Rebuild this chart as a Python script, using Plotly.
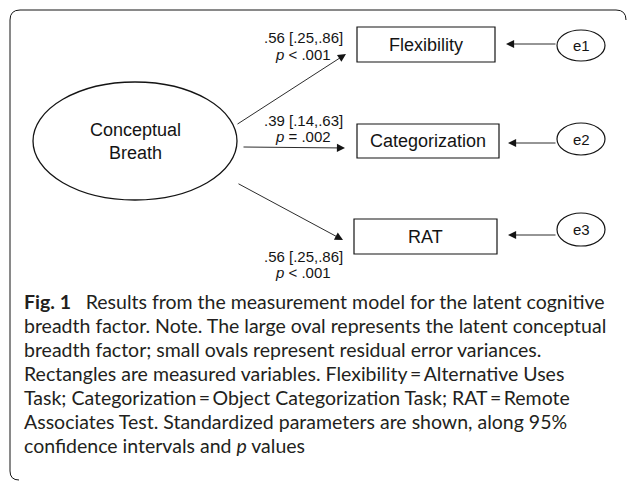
import plotly.graph_objects as go

# ── Model values ────────────────────────────────────────────────────────────
factor_name = ['Conceptual', 'Breath']
indicators = ['Flexibility', 'Categorization', 'RAT']
errors = ['e1', 'e2', 'e3']
loadings = ['.56', '.39', '.56']
ci_low = ['.25', '.14', '.25']
ci_high = ['.86', '.63', '.86']
p_text = ['< .001', '= .002', '< .001']

caption_lines = [
    '<b>Fig. 1</b>\u2002 Results from the measurement model for the latent cognitive',
    'breadth factor. Note. The large oval represents the latent conceptual',
    'breadth factor; small ovals represent residual error variances.',
    'Rectangles are measured variables. Flexibility\u2009=\u2009Alternative Uses',
    'Task; Categorization\u2009=\u2009Object Categorization Task; RAT\u2009=\u2009Remote',
    'Associates Test. Standardized parameters are shown, along 95%',
    'confidence intervals and <i>p</i> values',
]

# ── Layout geometry (pixel space) ───────────────────────────────────────────
W, H = 627, 481
factor_box = (33, 82, 237, 200)
ind_boxes = [(357, 27, 495, 62), (357, 124, 499, 158), (354, 219, 497, 254)]
err_boxes = [(557, 30, 605, 61), (557, 123, 605, 155), (557, 213, 605, 246)]
path_tails = [(236, 125), (242, 147), (237, 183)]
path_tips = [(346, 54), (345, 148), (343, 240)]
err_y = [44, 143, 235]
err_tip_x = [506, 508, 508]
label_pos = [(303, 37, 54), (303, 120, 136), (303, 256, 272)]
cap_x, cap_y0, cap_dy = 22, 301, 24

ink = '#141414'
diag_font = 'Liberation Sans, Arial, sans-serif'
cap_font = 'Lato, Open Sans, sans-serif'

fig = go.Figure()
fig.add_trace(go.Scatter(x=[0, W], y=[0, H], mode='markers',
                         marker=dict(opacity=0), hoverinfo='skip'))

shapes = []
# outer rounded frame
shapes.append(dict(type='path', line=dict(color=ink, width=1),
                   path=('M 626,20 Q 626,10 616,10 L 20,10 Q 10,10 10,20 '
                         'L 10,471 Q 10,480 19,480')))
x0, y0, x1, y1 = factor_box
shapes.append(dict(type='circle', x0=x0, y0=y0, x1=x1, y1=y1,
                   line=dict(color=ink, width=1.3)))
for (x0, y0, x1, y1) in ind_boxes:
    shapes.append(dict(type='rect', x0=x0, y0=y0, x1=x1, y1=y1,
                       line=dict(color=ink, width=1.2)))
for (x0, y0, x1, y1) in err_boxes:
    shapes.append(dict(type='circle', x0=x0, y0=y0, x1=x1, y1=y1,
                       line=dict(color=ink, width=1.2)))

ann = []
cx = (factor_box[0] + factor_box[2]) / 2
cy = (factor_box[1] + factor_box[3]) / 2
ann.append(dict(x=cx, y=cy, text='<br>'.join(factor_name), showarrow=False,
                font=dict(family=diag_font, size=18, color=ink)))

for i, name in enumerate(indicators):
    x0, y0, x1, y1 = ind_boxes[i]
    ann.append(dict(x=(x0 + x1) / 2, y=(y0 + y1) / 2, text=name, showarrow=False,
                    font=dict(family=diag_font, size=18, color=ink)))
    ex0, ey0, ex1, ey1 = err_boxes[i]
    ann.append(dict(x=(ex0 + ex1) / 2, y=(ey0 + ey1) / 2, text=errors[i],
                    showarrow=False, font=dict(family=diag_font, size=15, color=ink)))
    # loading path
    (tx, ty), (hx, hy) = path_tails[i], path_tips[i]
    ann.append(dict(x=hx, y=hy, ax=tx, ay=ty, axref='x', ayref='y', text='',
                    showarrow=True, arrowhead=2, arrowsize=1.8, arrowwidth=0.9,
                    arrowcolor=ink))
    # error path
    ann.append(dict(x=err_tip_x[i], y=err_y[i], ax=ex0, ay=err_y[i], axref='x',
                    ayref='y', text='', showarrow=True, arrowhead=2,
                    arrowsize=1.8, arrowwidth=0.9, arrowcolor=ink))
    lx, ly1, ly2 = label_pos[i]
    ann.append(dict(x=lx, y=ly1, text=f'{loadings[i]} [{ci_low[i]},{ci_high[i]}]',
                    showarrow=False, font=dict(family=diag_font, size=15, color=ink)))
    ann.append(dict(x=lx, y=ly2, text=f'<i>p</i> {p_text[i]}', showarrow=False,
                    font=dict(family=diag_font, size=15, color=ink)))

for k, line in enumerate(caption_lines):
    ann.append(dict(x=cap_x, y=cap_y0 + k * cap_dy, text=line, showarrow=False,
                    xanchor='left', yanchor='middle',
                    font=dict(family=cap_font, size=19.5, color='#231f20')))

fig.update_layout(
    width=W, height=H,
    margin=dict(l=0, r=0, t=0, b=0),
    paper_bgcolor='white', plot_bgcolor='white',
    showlegend=False,
    xaxis=dict(range=[0, W], visible=False, fixedrange=True),
    yaxis=dict(range=[H, 0], visible=False, fixedrange=True),
    shapes=shapes,
    annotations=ann,
)
# drop the page's default body margin so the figure sits at the window origin
fig.write_html('out.html', config={'displayModeBar': False},
               post_script="document.body.style.margin = '0px';")
